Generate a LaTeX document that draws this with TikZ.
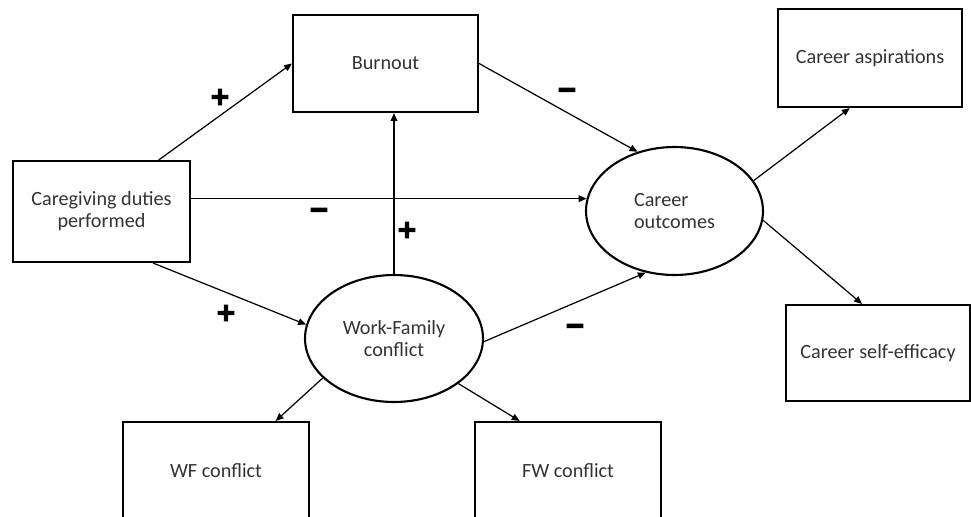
\documentclass[tikz,border=0pt]{standalone}
\usepackage{fontspec}
\setmainfont{Carlito}
\newfontfamily\signfont[FakeBold=6]{DejaVu Sans Bold}
\usetikzlibrary{shapes.geometric,arrows.meta}
\begin{document}
\begin{tikzpicture}[x=0.02cm,y=-0.02cm,>={Triangle[length=4.5pt,width=3.8pt]}]
  \tikzstyle{every node}=[font=\fontsize{11.5}{12.5}\selectfont,text=black!80,inner sep=0pt]
  \tikzstyle{box}=[draw,line width=1.2pt,rectangle,align=center]
  \tikzstyle{oval}=[draw,line width=1.2pt,ellipse,align=center]
  \tikzstyle{link}=[->,line width=0.7pt]
  \tikzstyle{sign}=[font=\signfont\fontsize{14}{14}\selectfont,text=black]
  \useasboundingbox (0,0) rectangle (971,517);
  \clip (0,0) rectangle (971,517);
  \node[box,minimum width=3.70cm,minimum height=1.94cm] (burnout) at (385.5,63.5) {Burnout};
  \node[box,minimum width=3.54cm,minimum height=2.02cm] (care) at (101.5,211.5) {Caregiving duties\\performed};
  \node[oval,minimum width=3.54cm,minimum height=2.56cm,align=left] (outc) at (674.5,211) {Career\\outcomes};
  \node[oval,minimum width=3.56cm,minimum height=2.54cm] (wfc) at (394,338.5) {Work-Family\\conflict};
  \node[box,minimum width=3.68cm,minimum height=1.96cm] (asp) at (870,58) {Career aspirations};
  \node[box,minimum width=3.68cm,minimum height=1.92cm] (eff) at (878,353) {Career self-efficacy};
  \node[box,minimum width=3.72cm,minimum height=1.96cm] (wf) at (216,471) {WF conflict};
  \node[box,minimum width=3.72cm,minimum height=1.96cm] (fw) at (568,471) {FW conflict};
  \draw[link] (care.42) -- (burnout.west);
  \draw[link] (care.east |- outc.172) -- (outc.172);
  \draw[link] (care.-45) -- (wfc.171);
  \draw[link] (burnout.east) -- (outc.122);
  \draw[link] (wfc.north) -- (wfc.north |- burnout.south);
  \draw[link] (wfc.-2) -- (outc.245);
  \draw[link] (outc.21) -- (asp.248);
  \draw[link] (outc.-6) -- (eff.108);
  \draw[link] (wfc.209) -- (wf.40);
  \draw[link] (wfc.325) -- (fw.134);
  \node[sign] (p1) at (220,97) {+};
  \node[sign] (m1) at (567,93) {−};
  \node[sign] (m2) at (319,213) {−};
  \node[sign] (p2) at (407,230) {+};
  \node[sign] (p3) at (226,313) {+};
  \node[sign] (m3) at (575,329) {−};
\end{tikzpicture}
\end{document}
